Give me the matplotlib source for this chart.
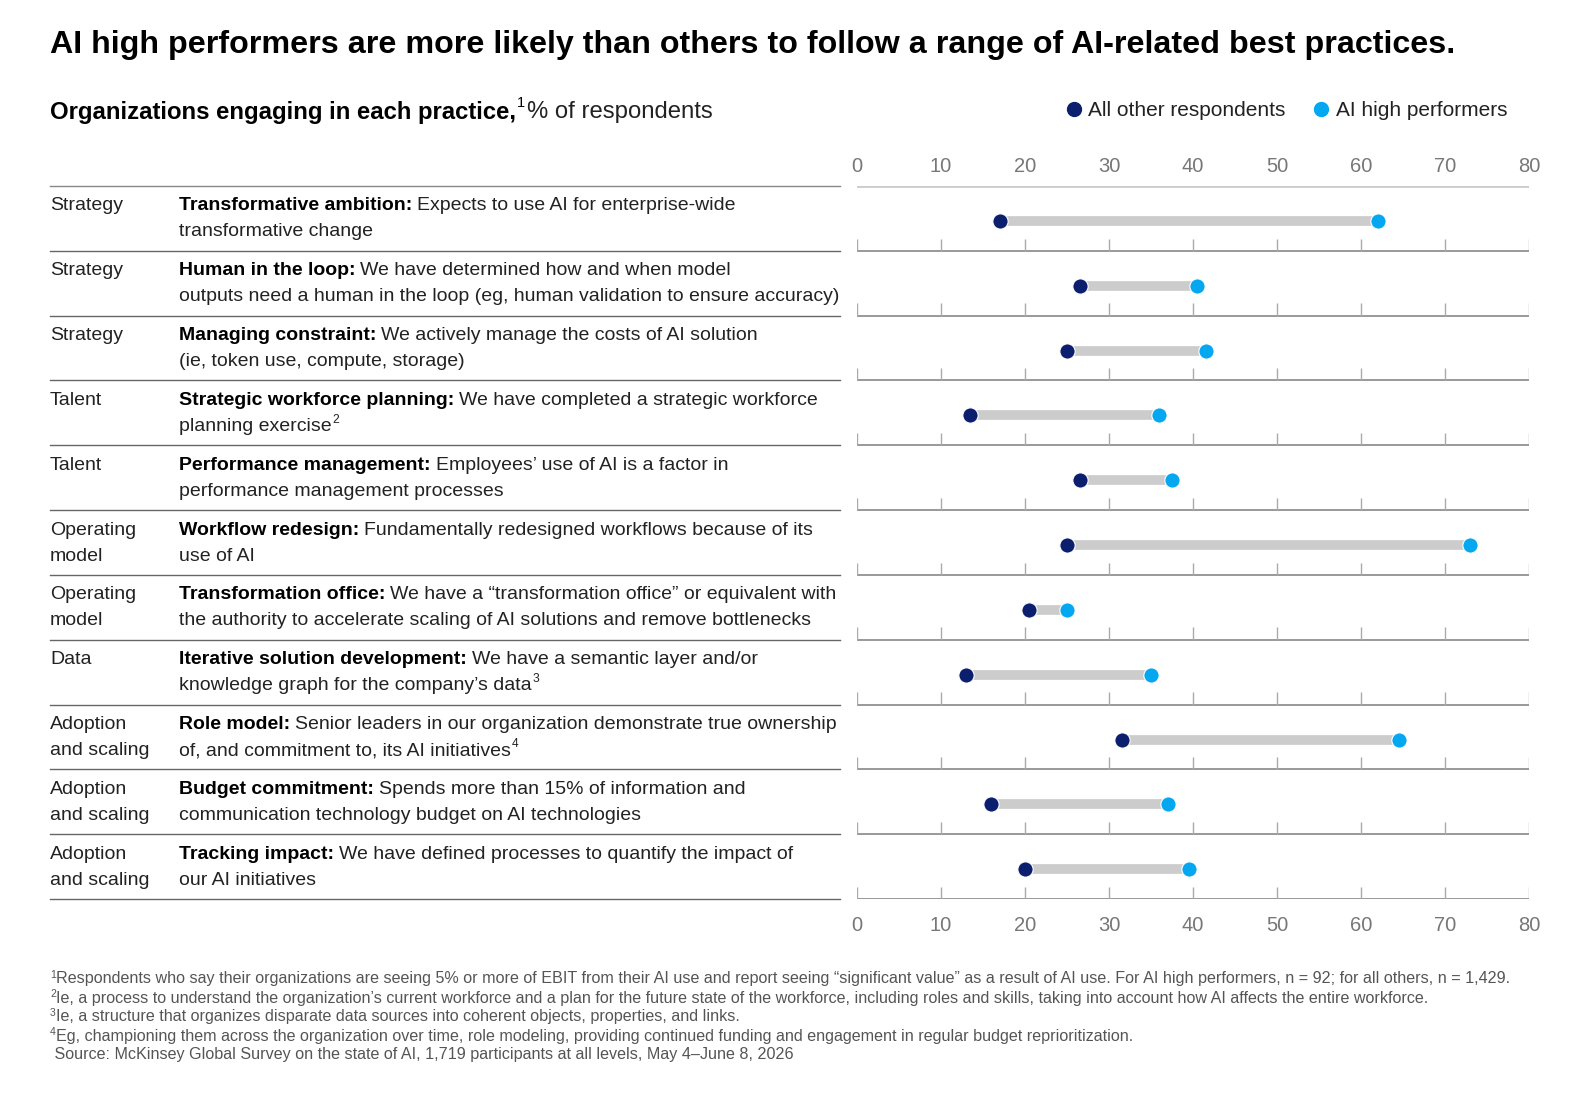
import matplotlib
matplotlib.use("Agg")
import matplotlib.pyplot as plt
from matplotlib.lines import Line2D

W, H = 1584, 1102
plt.rcParams['font.family'] = ['Liberation Sans', 'DejaVu Sans']

categories = ["Strategy", "Strategy", "Strategy", "Talent", "Talent",
              "Operating\nmodel", "Operating\nmodel", "Data",
              "Adoption\nand scaling", "Adoption\nand scaling", "Adoption\nand scaling"]
practice_names = ["Transformative ambition:", "Human in the loop:", "Managing constraint:",
                  "Strategic workforce planning:", "Performance management:",
                  "Workflow redesign:", "Transformation office:",
                  "Iterative solution development:", "Role model:",
                  "Budget commitment:", "Tracking impact:"]
practice_line1 = ["Expects to use AI for enterprise-wide",
                  "We have determined how and when model",
                  "We actively manage the costs of AI solution",
                  "We have completed a strategic workforce",
                  "Employees\u2019 use of AI is a factor in",
                  "Fundamentally redesigned workflows because of its",
                  "We have a \u201ctransformation office\u201d or equivalent with",
                  "We have a semantic layer and/or",
                  "Senior leaders in our organization demonstrate true ownership",
                  "Spends more than 15% of information and",
                  "We have defined processes to quantify the impact of"]
practice_line2 = ["transformative change",
                  "outputs need a human in the loop (eg, human validation to ensure accuracy)",
                  "(ie, token use, compute, storage)",
                  "planning exercise",
                  "performance management processes",
                  "use of AI",
                  "the authority to accelerate scaling of AI solutions and remove bottlenecks",
                  "knowledge graph for the company\u2019s data",
                  "of, and commitment to, its AI initiatives",
                  "communication technology budget on AI technologies",
                  "our AI initiatives"]
line2_notes = ["", "", "", "2", "", "", "", "3", "4", "", ""]
other_values = [17, 26.5, 25, 13.5, 26.5, 25, 20.5, 13, 31.5, 16, 20]
high_values = [62, 40.5, 41.5, 36, 37.5, 73, 25, 35, 64.5, 37, 39.5]
x_ticks = [0, 10, 20, 30, 40, 50, 60, 70, 80]

footnote_marks = ["1", "2", "3", "4", ""]
footnotes = [
    "Respondents who say their organizations are seeing 5% or more of EBIT from their AI use and report seeing \u201csignificant value\u201d as a result of AI use. For AI high performers, n = 92; for all others, n = 1,429.",
    "Ie, a process to understand the organization\u2019s current workforce and a plan for the future state of the workforce, including roles and skills, taking into account how AI affects the entire workforce.",
    "Ie, a structure that organizes disparate data sources into coherent objects, properties, and links.",
    "Eg, championing them across the organization over time, role modeling, providing continued funding and engagement in regular budget reprioritization.",
    " Source: McKinsey Global Survey on the state of AI, 1,719 participants at all levels, May 4\u2013June 8, 2026",
]

DARK = "#0b1f6e"
LIGHT = "#05a8f0"
BAR = "#cccccc"

fig = plt.figure(figsize=(W / 100, H / 100), dpi=100)
renderer = fig.canvas.get_renderer()


def fx(x):
    return x / W


def fy(y):
    return 1 - y / H


def text_px(x, y, s, **kw):
    return fig.text(fx(x), fy(y), s, va="center", ha="left", **kw)


def width_px(t):
    return t.get_window_extent(renderer).width


def with_note(x, y, s, note, size, **kw):
    # text followed by a small raised footnote number
    t = text_px(x, y, s, fontsize=size, **kw)
    if note:
        text_px(x + width_px(t) + 1, y - size * 0.45, note, fontsize=size * 0.62, **kw)
    return t


# title / subtitle
text_px(50, 45, "AI high performers are more likely than others to follow a range of AI-related best practices.",
        fontsize=23.2, fontweight="bold", color="black")
t = text_px(50, 112, "Organizations engaging in each practice,", fontsize=17.2, fontweight="bold")
w = width_px(t)
text_px(50 + w + 1, 103, "1", fontsize=10.5)
text_px(50 + w + 11, 112, "% of respondents", fontsize=17.2, color="#222222")

# legend
fig.legend(handles=[Line2D([], [], ls="", marker="o", ms=10, color=DARK),
                    Line2D([], [], ls="", marker="o", ms=10, color=LIGHT)],
           labels=["All other respondents", "AI high performers"],
           loc="center right", bbox_to_anchor=(fx(1526), fy(111)), ncol=2, frameon=False,
           fontsize=15, handletextpad=0.1, columnspacing=1.1, handlelength=1.2,
           labelcolor="#222222")

# table
top, row_h = 186, (899 - 186) / 11
fig.add_artist(Line2D([fx(50), fx(840)], [fy(top), fy(top)], color="#888888", lw=1))
for i in range(11):
    y0 = top + i * row_h
    y1 = y0 + 20
    y2 = y0 + 46
    for k, ln in enumerate(categories[i].split("\n")):
        text_px(50, y1 + k * 26, ln, fontsize=14, color="#222222")
    tb = text_px(179, y1, practice_names[i], fontsize=14, fontweight="bold", color="black")
    text_px(179 + width_px(tb) + 5, y1, practice_line1[i], fontsize=14, color="#222222")
    with_note(179, y2, practice_line2[i], line2_notes[i], 14, color="#222222")
    yb = y0 + row_h
    fig.add_artist(Line2D([fx(50), fx(840)], [fy(yb), fy(yb)], color="#666666", lw=1))

# dumbbell chart
ax = fig.add_axes([fx(857), fy(899), fx(1529) - fx(857), (899 - 186) / H])
ax.set_xlim(0, 80)
ax.set_ylim(11, 0)
for s in ax.spines.values():
    s.set_visible(False)
ax.set_yticks([])
ax.set_xticks(x_ticks)
ax.tick_params(axis="x", length=0, labelsize=14.5, labelcolor="#777777", pad=12)

top_ax = ax.twiny()
top_ax.set_xlim(ax.get_xlim())
top_ax.set_xticks(x_ticks)
top_ax.tick_params(axis="x", length=0, labelsize=14.5, labelcolor="#777777", pad=7)
for s in top_ax.spines.values():
    s.set_visible(False)

ax.axhline(0, color="#cccccc", lw=2)
for i in range(11):
    base = i + 1
    ax.axhline(base, color="#888888", lw=1.2)
    ax.vlines(x_ticks, base - 0.19, base, color="#aaaaaa", lw=1)
    yc = i + 0.54
    ax.plot([other_values[i], high_values[i]], [yc, yc], color=BAR, lw=7, solid_capstyle="butt", zorder=2)
    ax.plot(other_values[i], yc, "o", ms=11, color=DARK, mec="white", mew=0.8, zorder=3)
    ax.plot(high_values[i], yc, "o", ms=11, color=LIGHT, mec="white", mew=0.8, zorder=3)

# footnotes
for k, fn in enumerate(footnotes):
    y = 979 + k * 19
    x = 50
    if footnote_marks[k]:
        m = text_px(x, y - 4, footnote_marks[k], fontsize=7.5, color="#555555")
        x += width_px(m)
    text_px(x, y, fn, fontsize=11.6, color="#555555")

fig.savefig("out.png", dpi=100)
